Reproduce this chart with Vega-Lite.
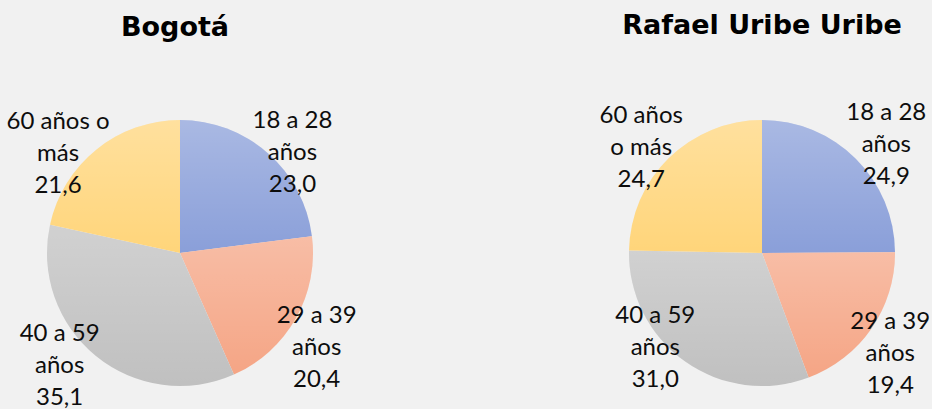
{
  "$schema": "https://vega.github.io/schema/vega-lite/v6.json",
  "background": "#f1f1f1",
  "padding": {"left": 0, "right": 0, "top": 11, "bottom": 0},
  "config": {
    "view": {"stroke": null},
    "title": {"font": "DejaVu Sans", "fontSize": 27, "fontWeight": "bold", "color": "#000000", "anchor": "middle", "frame": "group"}
  },
  "datasets": {
    "edades": [
      {"zona": "Bogotá", "grupo": "18 a 28 años", "etiqueta": "18 a 28\naños", "valor": 23.0, "orden": 1},
      {"zona": "Bogotá", "grupo": "29 a 39 años", "etiqueta": "29 a 39\naños", "valor": 20.4, "orden": 2},
      {"zona": "Bogotá", "grupo": "40 a 59 años", "etiqueta": "40 a 59\naños", "valor": 35.1, "orden": 3},
      {"zona": "Bogotá", "grupo": "60 años o más", "etiqueta": "60 años o\nmás", "valor": 21.6, "orden": 4},
      {"zona": "Rafael Uribe Uribe", "grupo": "18 a 28 años", "etiqueta": "18 a 28\naños", "valor": 24.9, "orden": 1},
      {"zona": "Rafael Uribe Uribe", "grupo": "29 a 39 años", "etiqueta": "29 a 39\naños", "valor": 19.4, "orden": 2},
      {"zona": "Rafael Uribe Uribe", "grupo": "40 a 59 años", "etiqueta": "40 a 59\naños", "valor": 31.0, "orden": 3},
      {"zona": "Rafael Uribe Uribe", "grupo": "60 años o más", "etiqueta": "60 años\no más", "valor": 24.7, "orden": 4}
    ]
  },
  "spacing": 232,
  "hconcat": [
    {
      "width": 360,
      "height": 300,
      "title": {"text": "Bogotá", "offset": 61, "dx": -5},
      "data": {"name": "edades"},
      "transform": [
        {"filter": "datum.zona === 'Bogotá'"},
        {"stack": "valor", "groupby": [], "sort": [{"field": "orden", "order": "ascending"}], "as": ["v0", "v1"]},
        {"calculate": "(datum.v0 + datum.v1) / 2", "as": "medio"},
        {"calculate": "datum.etiqueta + '\\n' + replace(format(datum.valor, '.1f'), '.', ',')", "as": "texto"}
      ],
      "layer": [
        {
          "mark": {"type": "arc", "radius": 133, "stroke": null},
          "encoding": {
            "theta": {"field": "v0", "type": "quantitative", "scale": {"domain": [0, 100.1], "zero": true, "nice": false}},
            "theta2": {"field": "v1"},
            "color": {"field": "grupo", "type": "nominal", "legend": null,
              "scale": {"domain": ["18 a 28 años", "29 a 39 años", "40 a 59 años", "60 años o más"], "range": ["#8a9fd9", "#f5a585", "#c0c0c0", "#ffd57a"]}}
          }
        },
        {
          "mark": {"type": "arc", "radius": 133, "stroke": null,
            "color": {"gradient": "linear", "x1": 0, "y1": 0, "x2": 0, "y2": 1, "stops": [{"offset": 0, "color": "rgba(255,255,255,0.27)"}, {"offset": 1, "color": "rgba(255,255,255,0)"}]}},
          "encoding": {
            "theta": {"field": "v0", "type": "quantitative"},
            "theta2": {"field": "v1"}
          }
        },
        {
          "transform": [{"filter": "datum.orden === 1"}],
          "mark": {"type": "text", "radius": 149, "dx": 14, "dy": -20, "font": "Lato", "fontSize": 24, "lineHeight": 32, "lineBreak": "\n", "align": "center", "baseline": "middle", "color": "#0d0d0d"},
          "encoding": {"theta": {"field": "medio", "type": "quantitative"}, "text": {"field": "texto"}}
        },
        {
          "transform": [{"filter": "datum.orden === 2"}],
          "mark": {"type": "text", "radius": 166, "dx": -8, "dy": -18, "font": "Lato", "fontSize": 24, "lineHeight": 32, "lineBreak": "\n", "align": "center", "baseline": "middle", "color": "#0d0d0d"},
          "encoding": {"theta": {"field": "medio", "type": "quantitative"}, "text": {"field": "texto"}}
        },
        {
          "transform": [{"filter": "datum.orden === 3"}],
          "mark": {"type": "text", "radius": 162, "dx": -18, "dy": -45, "font": "Lato", "fontSize": 24, "lineHeight": 32, "lineBreak": "\n", "align": "center", "baseline": "middle", "color": "#0d0d0d"},
          "encoding": {"theta": {"field": "medio", "type": "quantitative"}, "text": {"field": "texto"}}
        },
        {
          "transform": [{"filter": "datum.orden === 4"}],
          "mark": {"type": "text", "radius": 153, "dx": -26, "dy": -12, "font": "Lato", "fontSize": 24, "lineHeight": 32, "lineBreak": "\n", "align": "center", "baseline": "middle", "color": "#0d0d0d"},
          "encoding": {"theta": {"field": "medio", "type": "quantitative"}, "text": {"field": "texto"}}
        }
      ]
    },
    {
      "width": 340,
      "height": 300,
      "title": {"text": "Rafael Uribe Uribe", "offset": 61},
      "data": {"name": "edades"},
      "transform": [
        {"filter": "datum.zona === 'Rafael Uribe Uribe'"},
        {"stack": "valor", "groupby": [], "sort": [{"field": "orden", "order": "ascending"}], "as": ["v0", "v1"]},
        {"calculate": "(datum.v0 + datum.v1) / 2", "as": "medio"},
        {"calculate": "datum.etiqueta + '\\n' + replace(format(datum.valor, '.1f'), '.', ',')", "as": "texto"}
      ],
      "layer": [
        {
          "mark": {"type": "arc", "radius": 133, "stroke": null},
          "encoding": {
            "theta": {"field": "v0", "type": "quantitative", "scale": {"domain": [0, 100], "zero": true, "nice": false}},
            "theta2": {"field": "v1"},
            "color": {"field": "grupo", "type": "nominal", "legend": null,
              "scale": {"domain": ["18 a 28 años", "29 a 39 años", "40 a 59 años", "60 años o más"], "range": ["#8a9fd9", "#f5a585", "#c0c0c0", "#ffd57a"]}}
          }
        },
        {
          "mark": {"type": "arc", "radius": 133, "stroke": null,
            "color": {"gradient": "linear", "x1": 0, "y1": 0, "x2": 0, "y2": 1, "stops": [{"offset": 0, "color": "rgba(255,255,255,0.27)"}, {"offset": 1, "color": "rgba(255,255,255,0)"}]}},
          "encoding": {
            "theta": {"field": "v0", "type": "quantitative"},
            "theta2": {"field": "v1"}
          }
        },
        {
          "transform": [{"filter": "datum.orden === 1"}],
          "mark": {"type": "text", "radius": 165, "dx": 8, "dy": -23, "font": "Lato", "fontSize": 24, "lineHeight": 32, "lineBreak": "\n", "align": "center", "baseline": "middle", "color": "#0d0d0d"},
          "encoding": {"theta": {"field": "medio", "type": "quantitative"}, "text": {"field": "texto"}}
        },
        {
          "transform": [{"filter": "datum.orden === 2"}],
          "mark": {"type": "text", "radius": 163, "dx": -6, "dy": -23, "font": "Lato", "fontSize": 24, "lineHeight": 32, "lineBreak": "\n", "align": "center", "baseline": "middle", "color": "#0d0d0d"},
          "encoding": {"theta": {"field": "medio", "type": "quantitative"}, "text": {"field": "texto"}}
        },
        {
          "transform": [{"filter": "datum.orden === 3"}],
          "mark": {"type": "text", "radius": 138, "dx": -27, "dy": -50, "font": "Lato", "fontSize": 24, "lineHeight": 32, "lineBreak": "\n", "align": "center", "baseline": "middle", "color": "#0d0d0d"},
          "encoding": {"theta": {"field": "medio", "type": "quantitative"}, "text": {"field": "texto"}}
        },
        {
          "transform": [{"filter": "datum.orden === 4"}],
          "mark": {"type": "text", "radius": 161, "dx": -8, "dy": -22, "font": "Lato", "fontSize": 24, "lineHeight": 32, "lineBreak": "\n", "align": "center", "baseline": "middle", "color": "#0d0d0d"},
          "encoding": {"theta": {"field": "medio", "type": "quantitative"}, "text": {"field": "texto"}}
        }
      ]
    }
  ]
}
